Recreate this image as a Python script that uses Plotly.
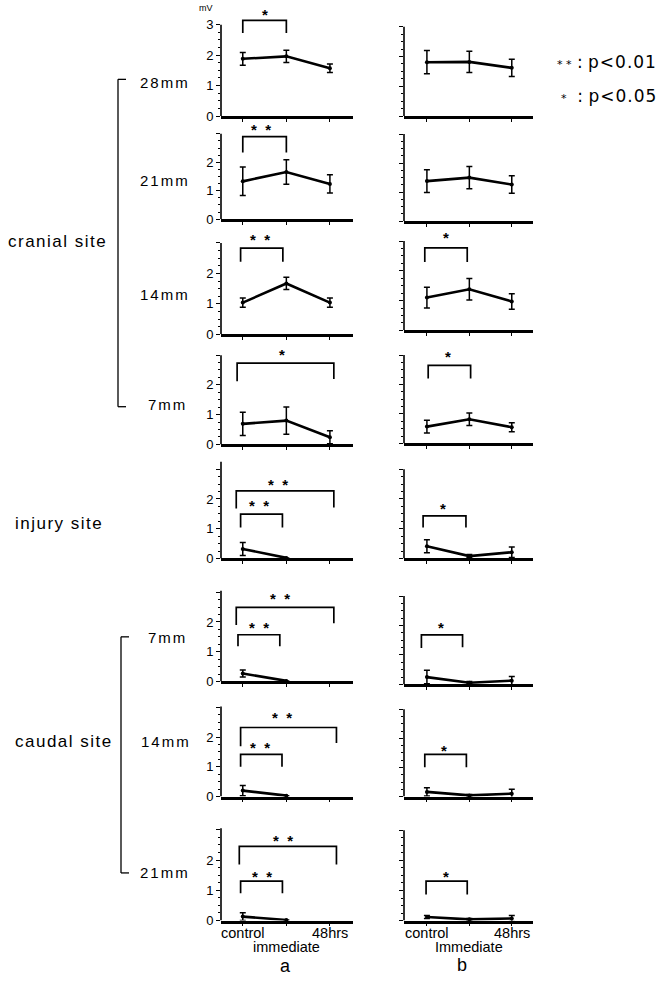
import plotly.graph_objects as go

# ---------------- data ----------------
CATEGORIES = ["control", "immediate", "48hrs"]
TICK_TEXT_A = ["control", "immediate", "48hrs"]
TICK_TEXT_B = ["control", "Immediate", "48hrs"]
ROW_LABELS = ["28mm", "21mm", "14mm", "7mm", "", "7mm", "14mm", "21mm"]
GROUP_LABELS = ["cranial site", "injury site", "caudal site"]

# column a (mean, error) per row, top to bottom
A_MEAN = [[1.88, 1.96, 1.57], [1.33, 1.66, 1.24], [1.04, 1.67, 1.04], [0.69, 0.80, 0.24],
          [0.32, 0.02, None], [0.27, 0.02, None], [0.20, 0.03, None], [0.13, 0.02, None]]
A_ERR = [[0.21, 0.20, 0.14], [0.50, 0.43, 0.32], [0.15, 0.20, 0.15], [0.39, 0.46, 0.22],
         [0.22, 0.0, 0.0], [0.12, 0.0, 0.0], [0.17, 0.0, 0.0], [0.13, 0.0, 0.0]]
# column b
B_MEAN = [[1.81, 1.82, 1.62], [1.38, 1.50, 1.26], [1.10, 1.38, 0.97], [0.57, 0.82, 0.55],
          [0.41, 0.08, 0.21], [0.25, 0.06, 0.13], [0.16, 0.04, 0.10], [0.12, 0.04, 0.07]]
B_ERR = [[0.39, 0.36, 0.29], [0.39, 0.38, 0.30], [0.35, 0.36, 0.26], [0.22, 0.21, 0.15],
         [0.22, 0.05, 0.18], [0.23, 0.04, 0.14], [0.14, 0.03, 0.15], [0.05, 0.03, 0.10]]

# significance brackets: (col, row, x_left, x_right, y_top, y_leg_left, y_leg_right, label, star_x, star_y)
BRACKETS = [
    (0, 0, 0.00, 1.00, 3.14, 2.73, 2.73, "*", 0.50, 3.43),
    (0, 1, 0.00, 1.00, 2.90, 2.34, 2.34, "**", 0.41, 3.24),
    (0, 2, -0.05, 0.92, 2.83, 2.38, 2.38, "**", 0.39, 3.22),
    (0, 3, -0.13, 2.09, 2.73, 2.12, 2.20, "*", 0.89, 3.13),
    (0, 4, -0.15, 2.09, 2.27, 1.68, 1.71, "**", 0.80, 2.60),
    (0, 4, -0.05, 0.91, 1.49, 1.04, 1.04, "**", 0.37, 1.88),
    (0, 5, -0.15, 2.09, 2.49, 1.90, 1.96, "**", 0.85, 2.88),
    (0, 5, -0.11, 0.85, 1.57, 1.18, 1.18, "**", 0.37, 1.90),
    (0, 6, -0.05, 2.15, 2.32, 1.69, 1.80, "**", 0.89, 2.76),
    (0, 6, -0.05, 0.90, 1.42, 1.00, 1.00, "**", 0.39, 1.75),
    (0, 7, -0.08, 2.15, 2.45, 1.85, 1.85, "**", 0.92, 2.74),
    (0, 7, -0.05, 0.91, 1.30, 0.90, 0.90, "**", 0.43, 1.57),
    (1, 2, -0.05, 0.95, 2.77, 2.30, 2.30, "*", 0.44, 3.21),
    (1, 3, 0.03, 1.03, 2.65, 2.20, 2.20, "*", 0.49, 3.04),
    (1, 4, -0.09, 0.92, 1.43, 1.04, 1.04, "*", 0.38, 1.77),
    (1, 5, -0.13, 0.84, 1.68, 1.24, 1.26, "*", 0.33, 2.04),
    (1, 6, -0.05, 0.93, 1.45, 1.01, 1.01, "*", 0.40, 1.70),
    (1, 7, -0.02, 0.95, 1.31, 0.87, 0.87, "*", 0.45, 1.58),
]

# ---------------- layout geometry (pixels) ----------------
W, H = 660, 996
FONT = "Liberation Sans, Arial, Helvetica, sans-serif"
WIDE_FONT = "DejaVu Sans, Liberation Sans, sans-serif"
BASE_PX = [[117, 221, 337, 448, 563, 687, 803, 928], [117, 223, 333, 447, 563, 690, 803, 928]]
SCALE_PX = [[30.7, 28.7, 30.7, 30.0, 30.0, 30.0, 30.0, 30.5], [30.0, 29.3, 30.0, 29.7, 30.0, 29.7, 29.3, 30.3]]
AXIS_TOP = [[3.0, 3.0, 3.0, 3.0, 3.25, 3.05, 3.03, 3.05], [3.0] * 8]
COL_X_PX = [(221, 353), (404, 533)]
COL_XRANGE = [(-0.5, 2.53), (-0.54, 2.5)]
YMAX = 3.6
X_IDX = list(range(len(CATEGORIES)))


def py(p):
    return 1 - p / H


def pxx(p):
    return p / W


fig = go.Figure()
layout = {}
shapes = []
annotations = []
minor_vals = [i * 0.25 for i in range(13) if i % 4 != 0]

for col in range(2):
    means_all = A_MEAN if col == 0 else B_MEAN
    errs_all = A_ERR if col == 0 else B_ERR
    for r in range(8):
        n = r * 2 + col + 1
        sfx = "" if n == 1 else str(n)
        xa, ya = "x" + sfx, "y" + sfx
        fig.add_trace(go.Scatter(
            x=X_IDX, y=means_all[r], xaxis=xa, yaxis=ya,
            mode="lines+markers", line=dict(color="black", width=2.6),
            marker=dict(color="black", size=4), connectgaps=False,
            error_y=dict(type="data", array=errs_all[r], color="black", thickness=1.5, width=3),
            cliponaxis=False, showlegend=False, hoverinfo="skip"))
        B = BASE_PX[col][r]
        s = SCALE_PX[col][r]
        d0 = py(B)
        d1 = py(B - YMAX * s)
        x0p, x1p = COL_X_PX[col]
        if col == 0:
            ttext = ["0", "1", "2", "3" if r == 0 else ""]
        else:
            ttext = ["", "", "", ""]
        layout["xaxis" + sfx] = dict(
            domain=[pxx(x0p), pxx(x1p)], anchor=ya, type="linear",
            range=list(COL_XRANGE[col]), showline=True, linecolor="black", linewidth=2.6,
            tickmode="array", tickvals=X_IDX, ticktext=CATEGORIES,
            ticks="outside", ticklen=3, tickwidth=1.2, tickcolor="black",
            showticklabels=False, showgrid=False, zeroline=False, fixedrange=True)
        layout["yaxis" + sfx] = dict(
            domain=[d0, d1], anchor=xa, range=[0, YMAX], showline=False,
            showgrid=False, zeroline=False, tickmode="array", tickvals=[0, 1, 2, 3],
            ticktext=ttext, ticks="outside", ticklen=4, tickwidth=1.4, tickcolor="black",
            showticklabels=(col == 0), tickfont=dict(family=FONT, size=13, color="black"),
            minor=dict(tickmode="array", tickvals=minor_vals, ticks="outside", ticklen=2.5,
                       tickwidth=1, tickcolor="black"),
            fixedrange=True)
        # y axis line (stops at axis top)
        shapes.append(dict(type="line", xref=xa + " domain", yref=ya, x0=0, x1=0,
                           y0=0, y1=AXIS_TOP[col][r], line=dict(color="black", width=1.6)))

# brackets and stars
for (col, r, xl, xr, yt, yl, yr, lab, sx, sy) in BRACKETS:
    n = r * 2 + col + 1
    sfx = "" if n == 1 else str(n)
    xa, ya = "x" + sfx, "y" + sfx
    fig.add_trace(go.Scatter(x=[xl, xl, xr, xr], y=[yl, yt, yt, yr], xaxis=xa, yaxis=ya,
                             mode="lines", line=dict(color="black", width=1.7),
                             showlegend=False, hoverinfo="skip"))
    txt = "<b>*</b>" if lab == "*" else "<b>*\u00a0\u00a0*</b>"
    annotations.append(dict(x=sx, y=sy, xref=xa, yref=ya, text=txt, showarrow=False,
                            font=dict(family=FONT, size=15, color="black"),
                            xanchor="center", yanchor="middle", yshift=-3))

# bottom category labels
for col, texts in ((0, TICK_TEXT_A), (1, TICK_TEXT_B)):
    n = 7 * 2 + col + 1
    xa = "x" + str(n)
    for i, t in enumerate(texts):
        annotations.append(dict(x=X_IDX[i], y=py(955 if i == 1 else 941), xref=xa, yref="paper",
                                text=t, showarrow=False, xanchor="center", yanchor="middle",
                                font=dict(family=FONT, size=14.5, color="black")))
annotations.append(dict(x=pxx(285), y=py(974), xref="paper", yref="paper", text="a", showarrow=False,
                        font=dict(family=FONT, size=18, color="black"), xanchor="center", yanchor="middle"))
annotations.append(dict(x=pxx(462), y=py(973), xref="paper", yref="paper", text="b", showarrow=False,
                        font=dict(family=FONT, size=18, color="black"), xanchor="center", yanchor="middle"))

# mV unit
annotations.append(dict(x=pxx(206), y=py(8), xref="paper", yref="paper", text="mV", showarrow=False,
                        font=dict(family=FONT, size=9, color="black"), xanchor="center", yanchor="middle"))

# left row labels
ROW_LABEL_PX = [(165, 83), (165, 182), (165, 297), (168, 408), None, (167, 643), (166, 748), (165, 880)]
for lab, pos in zip(ROW_LABELS, ROW_LABEL_PX):
    if pos is None:
        continue
    annotations.append(dict(x=pxx(pos[0]), y=py(pos[1]), xref="paper", yref="paper",
                            text="<span style='letter-spacing:2px'>" + lab + "</span>", showarrow=False,
                            font=dict(family=FONT, size=15, color="black"), xanchor="center", yanchor="middle"))
GROUP_PX = [(57, 243), (59, 528), (64, 747)]
for lab, pos in zip(GROUP_LABELS, GROUP_PX):
    annotations.append(dict(x=pxx(pos[0]), y=py(pos[1]), xref="paper", yref="paper",
                            text="<span style='letter-spacing:1.5px'>" + lab + "</span>", showarrow=False,
                            font=dict(family=FONT, size=17, color="black"), xanchor="center", yanchor="middle"))

# group brackets on the left
for (xv, ytop, ybot) in ((118, 80, 410), (121, 642, 880)):
    shapes.append(dict(type="line", xref="paper", yref="paper", x0=pxx(xv), x1=pxx(xv), y0=py(ytop), y1=py(ybot),
                       line=dict(color="black", width=1.3)))
    for yy in (ytop, ybot):
        shapes.append(dict(type="line", xref="paper", yref="paper", x0=pxx(xv), x1=pxx(xv + 8), y0=py(yy), y1=py(yy),
                           line=dict(color="black", width=1.3)))

# significance legend
annotations.append(dict(x=pxx(555), y=py(62), xref="paper", yref="paper",
                        text="<span style='font-size:11px'>*\u00a0*</span>\u00a0:\u00a0<span style='letter-spacing:1px'>p&lt;0.01</span>",
                        showarrow=False, font=dict(family=WIDE_FONT, size=17, color="black"), xanchor="left", yanchor="middle"))
annotations.append(dict(x=pxx(559), y=py(97), xref="paper", yref="paper",
                        text="<span style='font-size:11px'>*</span>\u00a0\u00a0:\u00a0<span style='letter-spacing:1px'>p&lt;0.05</span>",
                        showarrow=False, font=dict(family=WIDE_FONT, size=17, color="black"), xanchor="left", yanchor="middle"))

fig.update_layout(**layout)
fig.update_layout(width=W, height=H, margin=dict(l=0, r=0, t=0, b=0),
                  paper_bgcolor="white", plot_bgcolor="rgba(0,0,0,0)",
                  shapes=shapes, annotations=annotations, showlegend=False,
                  font=dict(family=FONT, color="black"))
fig.write_html("out.html", config={"displayModeBar": False},
               post_script="document.body.style.margin='0';document.body.style.overflow='hidden';")
